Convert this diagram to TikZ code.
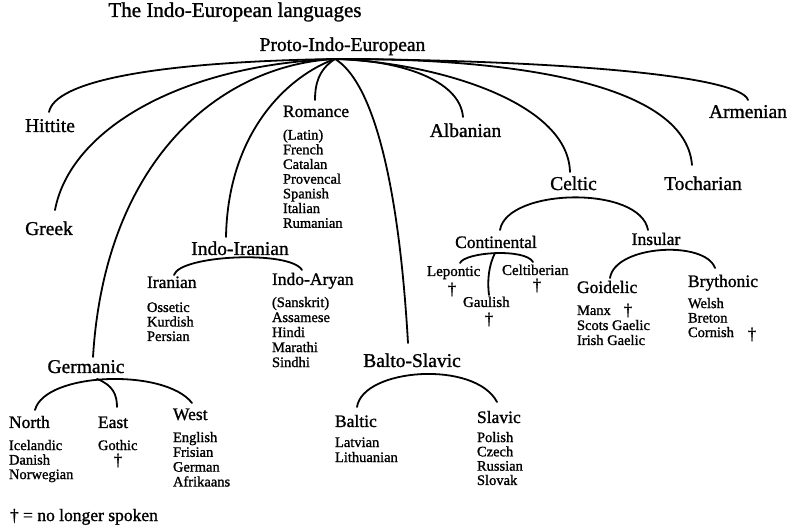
\documentclass[tikz,border=0pt]{standalone}
\usepackage{fontspec}
\setmainfont{Liberation Serif}[RawFeature={embolden=1.2}]
\begin{document}
\begin{tikzpicture}[x=1pt,y=-1pt,
  every node/.style={inner sep=0pt, outer sep=0pt},
  branch/.style={line width=1.8pt, line cap=round},
  toplab/.style={font=\fontsize{19.5}{20}\selectfont, anchor=base},
  sublab/.style={font=\fontsize{17.5}{18}\selectfont, anchor=base west},
  lst/.style={font=\fontsize{14.5}{#1}\selectfont, anchor=north west, align=left},
  lst/.default=14.7,
  smalllab/.style={font=\fontsize{15}{15}\selectfont, anchor=base west},
  dag/.style={font=\fontsize{17}{17}\selectfont, anchor=base},
]
\useasboundingbox (0,0) rectangle (793,529);

% title and root
\node[font=\fontsize{21}{21}\selectfont, anchor=base] (title) at (235,17) {The Indo-European languages};
\node[font=\fontsize{19.5}{20}\selectfont, anchor=base] (pie) at (342.5,51) {Proto-Indo-European};
\coordinate (root) at (335,59);

% top-level labels
\node[toplab] (nHittite) at (50,132) {Hittite};
\node[toplab] (nGreek) at (49,235) {Greek};
\node[sublab] (nRomance) at (283,117) {Romance};
\node[lst] (nRomList) at (283,129.5) {\rule{0pt}{10pt}(Latin)\\French\\Catalan\\Provencal\\Spanish\\Italian\\Rumanian};
\node[toplab] (nAlbanian) at (465.5,137) {Albanian};
\node[toplab] (nArmenian) at (748,118) {Armenian};
\node[toplab] (nCeltic) at (573.5,190) {Celtic};
\node[toplab] (nTocharian) at (703,190) {Tocharian};
\node[toplab] (nIndoIranian) at (240,255) {Indo-Iranian};
\node[toplab] (nGermanic) at (86,373) {Germanic};
\node[toplab] (nBaltoSlavic) at (412,367) {Balto-Slavic};

% branch ends
\coordinate (eHit) at (49,112);
\coordinate (eGre) at (55,210);
\coordinate (eGer) at (93,357);
\coordinate (eII) at (226,237);
\coordinate (eRom) at (315,100);
\coordinate (eBS) at (408,343);
\coordinate (eAlb) at (463,117);
\coordinate (eCel) at (570,172);
\coordinate (eToc) at (692,165);
\coordinate (eArm) at (748,100);

\draw[branch] (root) .. controls (150,62) and (55,82) .. (eHit);
\draw[branch] (root) .. controls (180,65) and (70,130) .. (eGre);
\draw[branch] (root) .. controls (220,65) and (105,160) .. (eGer);
\draw[branch] (root) .. controls (290,75) and (228,130) .. (eII);
\draw[branch] (root) .. controls (318,70) and (315,85) .. (eRom);
\draw[branch] (root) .. controls (370,80) and (398,170) .. (eBS);
\draw[branch] (root) .. controls (400,60) and (460,80) .. (eAlb);
\draw[branch] (root) .. controls (430,62) and (568,100) .. (eCel);
\draw[branch] (root) .. controls (500,58) and (685,80) .. (eToc);
\draw[branch] (root) .. controls (550,60) and (740,75) .. (eArm);

% Indo-Iranian
\coordinate (eIran) at (174,275);
\coordinate (eIA) at (302,270);
\draw[branch] (eIran) .. controls (180,255) and (290,250) .. (eIA);
\node[sublab] (nIranian) at (147,288) {Iranian};
\node[sublab] (nIndoAryan) at (272,285) {Indo-Aryan};
\node[lst=14.5] (nIranList) at (147,302) {\rule{0pt}{10pt}Ossetic\\Kurdish\\Persian};
\node[lst=15] (nIAList) at (272,297) {\rule{0pt}{10pt}(Sanskrit)\\Assamese\\Hindi\\Marathi\\Sindhi};

% Germanic
\coordinate (eNorth) at (35,410);
\coordinate (eWest) at (192,403);
\coordinate (gPeak) at (97,379);
\coordinate (eEast) at (117,407);
\draw[branch] (eNorth) .. controls (45,372) and (165,368) .. (eWest);
\draw[branch] (gPeak) .. controls (113,385) and (117,395) .. (eEast);
\node[sublab] (nNorth) at (9,428) {North};
\node[sublab] (nEast) at (98,428) {East};
\node[sublab] (nWest) at (173,420) {West};
\node[lst=14.5] (nNorthList) at (9,440) {\rule{0pt}{10pt}Icelandic\\Danish\\Norwegian};
\node[lst] (nGothic) at (98,440) {\rule{0pt}{10pt}Gothic};
\node[dag] (dGothic) at (118,465.5) {†};
\node[lst=14.8] (nWestList) at (173,432) {\rule{0pt}{10pt}English\\Frisian\\German\\Afrikaans};

% Balto-Slavic
\coordinate (eBaltic) at (357,407);
\coordinate (eSlavic) at (497,402);
\draw[branch] (eBaltic) .. controls (363,368) and (475,360) .. (eSlavic);
\node[sublab] (nBaltic) at (335,427) {Baltic};
\node[sublab] (nSlavic) at (477,423) {Slavic};
\node[lst=15] (nBalticList) at (335,437) {\rule{0pt}{10pt}Latvian\\Lithuanian};
\node[lst=14.3] (nSlavicList) at (477,432) {\rule{0pt}{10pt}Polish\\Czech\\Russian\\Slovak};

% Celtic
\coordinate (eCont) at (500,230);
\coordinate (eIns) at (648,230);
\draw[branch] (eCont) .. controls (507,188) and (640,185) .. (eIns);
\node[sublab, anchor=base] (nContinental) at (496,248) {Continental};
\node[sublab, anchor=base] (nInsular) at (656,245) {Insular};
\coordinate (eLep) at (460,263);
\coordinate (eCeltib) at (533,262);
\coordinate (cPeak) at (495,253);
\coordinate (eGaul) at (489,295);
\draw[branch] (eLep) .. controls (465,252) and (525,248) .. (eCeltib);
\draw[branch] (cPeak) .. controls (489,265) and (487,280) .. (eGaul);
\node[smalllab] (nLepontic) at (427,276) {Lepontic};
\node[smalllab] (nCeltiberian) at (502,275) {Celtiberian};
\node[smalllab] (nGaulish) at (463,307) {Gaulish};
\node[dag] (dLep) at (452,294.5) {†};
\node[dag] (dCeltib) at (537,290.5) {†};
\node[dag] (dGaul) at (489,324.5) {†};
\coordinate (eGoid) at (610,278);
\coordinate (eBry) at (715,268);
\draw[branch] (eGoid) .. controls (615,245) and (705,240) .. (eBry);
\node[sublab] (nGoidelic) at (577,293) {Goidelic};
\node[sublab] (nBrythonic) at (688,287) {Brythonic};
\node[lst=15] (nGoidList) at (577,305) {\rule{0pt}{10pt}Manx\\Scots Gaelic\\Irish Gaelic};
\node[dag] (dManx) at (628,315.5) {†};
\node[lst=14.5] (nBryList) at (688,298) {\rule{0pt}{10pt}Welsh\\Breton\\Cornish};
\node[dag] (dCorn) at (752,339.5) {†};

% footnote
\node[font=\fontsize{17.5}{18}\selectfont, anchor=base west] (note) at (10,521) {† = no longer spoken};
\end{tikzpicture}
\end{document}
